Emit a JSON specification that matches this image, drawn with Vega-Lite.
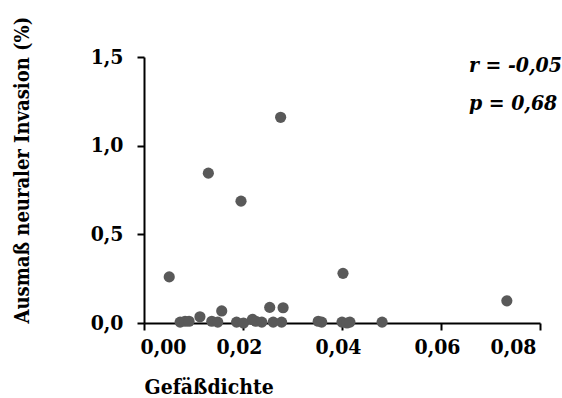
{
  "$schema": "https://vega.github.io/schema/vega-lite/v6.json",
  "width": 396,
  "height": 266,
  "autosize": {"type": "none"},
  "padding": {"left": 144, "top": 57, "right": 22, "bottom": 75},
  "background": "white",
  "title": {
    "text": "r = -0,05",
    "subtitle": "p = 0,68",
    "anchor": "end",
    "align": "left",
    "dx": -72,
    "dy": 52,
    "offset": -46,
    "font": "DejaVu Serif Condensed, Liberation Serif, serif",
    "fontSize": 21,
    "fontWeight": "bold",
    "fontStyle": "italic",
    "color": "black",
    "subtitleFont": "DejaVu Serif Condensed, Liberation Serif, serif",
    "subtitleFontSize": 21,
    "subtitleFontWeight": "bold",
    "subtitleFontStyle": "italic",
    "subtitleColor": "black",
    "subtitlePadding": 17
  },
  "data": {
    "values": [
      {"dichte": 0.0051, "invasion": 0.26},
      {"dichte": 0.0130, "invasion": 0.845},
      {"dichte": 0.0196, "invasion": 0.687},
      {"dichte": 0.0276, "invasion": 1.16},
      {"dichte": 0.0402, "invasion": 0.28},
      {"dichte": 0.0733, "invasion": 0.125},
      {"dichte": 0.0113, "invasion": 0.035},
      {"dichte": 0.0157, "invasion": 0.068},
      {"dichte": 0.0254, "invasion": 0.088},
      {"dichte": 0.0281, "invasion": 0.086},
      {"dichte": 0.0073, "invasion": 0.005},
      {"dichte": 0.0083, "invasion": 0.01},
      {"dichte": 0.0091, "invasion": 0.01},
      {"dichte": 0.0137, "invasion": 0.01},
      {"dichte": 0.0149, "invasion": 0.005},
      {"dichte": 0.0187, "invasion": 0.005},
      {"dichte": 0.0201, "invasion": 0.0},
      {"dichte": 0.0219, "invasion": 0.02},
      {"dichte": 0.0226, "invasion": 0.01},
      {"dichte": 0.0238, "invasion": 0.005},
      {"dichte": 0.0261, "invasion": 0.005},
      {"dichte": 0.0278, "invasion": 0.005},
      {"dichte": 0.0352, "invasion": 0.01},
      {"dichte": 0.0359, "invasion": 0.005},
      {"dichte": 0.0400, "invasion": 0.005},
      {"dichte": 0.0410, "invasion": 0.0},
      {"dichte": 0.0416, "invasion": 0.005},
      {"dichte": 0.0481, "invasion": 0.005}
    ]
  },
  "mark": {"type": "circle", "size": 125, "color": "#595959", "opacity": 1},
  "encoding": {
    "x": {
      "field": "dichte",
      "type": "quantitative",
      "scale": {"domain": [0, 0.08], "nice": false, "zero": true},
      "axis": {
        "title": "Gefäßdichte",
        "values": [0, 0.02, 0.04, 0.06, 0.08],
        "labelExpr": "replace(format(datum.value, '.2f'), '.', ',')",
        "labelOffset": -4,
        "labelPadding": 6,
        "titleAnchor": "start",
        "titleAlign": "left",
        "titlePadding": 19
      }
    },
    "y": {
      "field": "invasion",
      "type": "quantitative",
      "scale": {"domain": [0, 1.5], "nice": false},
      "axis": {
        "title": "Ausmaß neuraler Invasion (%)",
        "values": [0, 0.5, 1, 1.5],
        "labelExpr": "replace(format(datum.value, '.1f'), '.', ',')",
        "labelPadding": 14,
        "titleAnchor": "start",
        "titleAlign": "left",
        "titleFontSize": 20,
        "titlePadding": 58
      }
    }
  },
  "config": {
    "view": {"stroke": null},
    "axis": {
      "grid": false,
      "domainColor": "black",
      "domainWidth": 2,
      "tickColor": "black",
      "tickWidth": 2,
      "tickSize": 7,
      "labelFont": "DejaVu Serif Condensed, Liberation Serif, serif",
      "labelFontSize": 21,
      "labelFontWeight": "bold",
      "labelColor": "black",
      "titleFont": "DejaVu Serif Condensed, Liberation Serif, serif",
      "titleFontSize": 21,
      "titleFontWeight": "bold",
      "titleColor": "black"
    }
  }
}
